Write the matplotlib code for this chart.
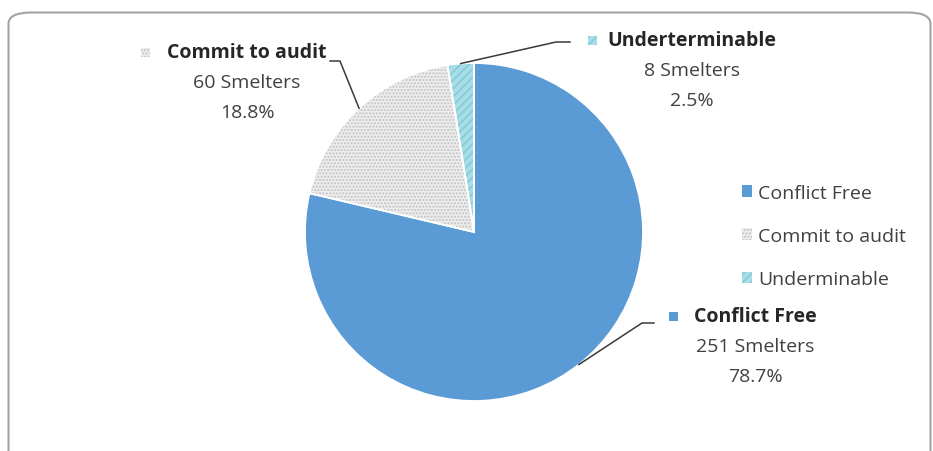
import numpy as np
import matplotlib.pyplot as plt
from matplotlib.patches import Patch, Wedge, Rectangle, FancyBboxPatch

plt.rcParams['font.family'] = ['Open Sans', 'DejaVu Sans']

# data
categories = ['Conflict Free', 'Commit to audit', 'Underterminable']
legend_labels = ['Conflict Free', 'Commit to audit', 'Underminable']
smelters = [251, 60, 8]
count_labels = ['251 Smelters', '60 Smelters', '8 Smelters']
pct_labels = ['78.7%', '18.8%', '2.5%']

colors = ['#5b9bd5', '#ededed', '#a8dde7']
hatches = [None, '.....', '////']
hatch_colors = [None, '#c2c2c2', '#7fc9d6']

W, H = 933, 452
fig = plt.figure(figsize=(W / 100, H / 100), dpi=100)
ax = fig.add_axes([0, 0, 1, 1])

# frame with rounded corners
fig.patches.append(FancyBboxPatch((8.5 / W, -0.05), 922 / W, 1.05 - 13.5 / H,
                                  boxstyle='round,pad=0,rounding_size=0.025',
                                  transform=fig.transFigure, facecolor='none',
                                  edgecolor='#a3a3a3', linewidth=1.5, zorder=10))
ax.set_facecolor('none')

cx, cy, r = 474, 233, 169
# pixel coords, y down: counterclock in data = clockwise on screen
wedges, _ = ax.pie(smelters, colors=colors, startangle=-90, counterclock=True,
                   center=(cx, cy), radius=r, wedgeprops=dict(linewidth=0))
for w, h, hc in zip(wedges, hatches, hatch_colors):
    if h:
        ax.add_patch(Wedge((cx, cy), r, w.theta1, w.theta2, facecolor='none',
                           edgecolor=hc, hatch=h, linewidth=0, zorder=2))
    ax.add_patch(Wedge((cx, cy), r, w.theta1, w.theta2, facecolor='none',
                       edgecolor='white', linewidth=1.3, zorder=3))

ax.set_xlim(0, W)
ax.set_ylim(H, 0)
ax.set_aspect('equal')
ax.axis('off')

# data labels (layout positions)
label_x = [755, 247, 692]
label_y = [317, 53, 41]
marker_x = [673, 145, 592]
elbows = [[(642, 324), (654, 324)], [(340, 62), (330, 62)], [(556, 43), (570, 43)]]
line_gap = 30

for i, w in enumerate(wedges):
    mid = np.deg2rad((w.theta1 + w.theta2) / 2)
    ex, ey = cx + r * np.cos(mid), cy + r * np.sin(mid)
    pts = [(ex, ey)] + elbows[i]
    ax.plot([p[0] for p in pts], [p[1] for p in pts], color='#3a3a3a', lw=1.1, zorder=4)
    ax.text(label_x[i], label_y[i], categories[i], ha='center', va='center',
            fontsize=14, fontweight='bold', color='#262626')
    ax.text(label_x[i], label_y[i] + line_gap, count_labels[i], ha='center', va='center',
            fontsize=14, color='#404040')
    ax.text(label_x[i], label_y[i] + 2 * line_gap, pct_labels[i], ha='center', va='center',
            fontsize=14, color='#404040')
    ax.add_patch(Rectangle((marker_x[i] - 4.5, label_y[i] - 4.5), 9, 9,
                           facecolor=colors[i], edgecolor='none', zorder=4))
    if hatches[i]:
        ax.add_patch(Rectangle((marker_x[i] - 4.5, label_y[i] - 4.5), 9, 9,
                               facecolor='none', edgecolor=hatch_colors[i],
                               hatch=hatches[i], linewidth=0, zorder=5))

handles = [Patch(facecolor=c, edgecolor=hc if h else 'none', hatch=h, linewidth=0)
           for c, h, hc in zip(colors, hatches, hatch_colors)]
leg = ax.legend(handles, legend_labels, loc='upper left',
                bbox_to_anchor=(734 / W, 1 - 177 / H), frameon=False,
                fontsize=14, handlelength=0.55, handleheight=0.55,
                handletextpad=0.3, labelspacing=1.3, borderaxespad=0)
for t in leg.get_texts():
    t.set_color('#404040')

fig.savefig('out.png', dpi=100)
